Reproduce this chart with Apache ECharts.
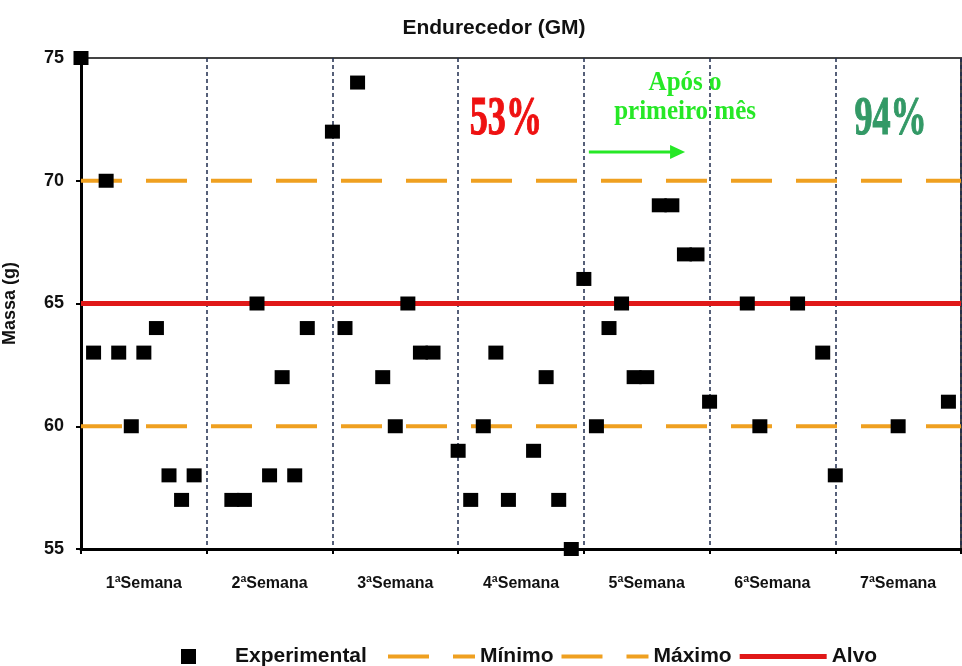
<!DOCTYPE html>
<html>
<head>
<meta charset="utf-8">
<script src="https://cdn.jsdelivr.net/npm/echarts@6/dist/echarts.min.js"></script>
<style>
  html, body { margin: 0; padding: 0; background: #fff; }
  #chart { width: 962px; height: 666px; }
</style>
</head>
<body>
<div id="chart"></div>
<script>
// ---- data ----
var weeks = ['1ªSemana', '2ªSemana', '3ªSemana', '4ªSemana', '5ªSemana', '6ªSemana', '7ªSemana'];
// sample position (10 slots per week) and measured mass (g)
var expX = [0, 1, 2, 3, 4, 5, 6, 7, 8, 9,
            12, 13, 14, 15, 16, 17, 18,
            20, 21, 22, 24, 25, 26, 27, 28,
            30, 31, 32, 33, 34, 36, 37, 38, 39,
            40, 41, 42, 43, 44, 45, 46, 47, 48, 49,
            50, 53, 54, 57, 59,
            60, 65, 69];
var expY = [75, 63, 70, 63, 60, 63, 64, 58, 57, 58,
            57, 57, 65, 58, 62, 58, 64,
            72, 64, 74, 62, 60, 65, 63, 63,
            59, 57, 60, 63, 57, 59, 62, 57, 55,
            66, 60, 64, 65, 62, 62, 69, 69, 67, 67,
            61, 65, 60, 65, 63,
            58, 60, 61];
var xRange = [0, 70];
var minimo = 60, maximo = 70, alvo = 65;
var yTicks = { min: 55, max: 75, interval: 5 };
// annotations
var pctBefore = '53%', pctAfter = '94%';
var noteLines = ['Após o', 'primeiro mês'];
var splitAt = 40.4;

var chart = echarts.init(document.getElementById('chart'), null, { renderer: 'canvas' });

var sansB = "'Liberation Sans', Arial, sans-serif";
var orange = '#EFA020';
var red = '#E01818';
var green = '#26E826';

function pairs(xs, ys) { return xs.map(function (x, i) { return [x, ys[i]]; }); }
function flat(v) { return [[xRange[0], v], [xRange[1], v]]; }

var legendText = { fontFamily: sansB, fontWeight: 'bold', fontSize: 21, color: '#111' };
var dashIcon = 'path://M0,0h0.01v0.01h-0.01z M0,5.5h41v4h-41z M65,5.5h22v4h-22z M86.99,14.99h0.01v0.01h-0.01z';
var solidIcon = 'path://M0,0h0.01v0.01h-0.01z M0,5h87v5h-87z M86.99,14.99h0.01v0.01h-0.01z';

var option = {
  backgroundColor: '#ffffff',
  animation: false,
  title: {
    text: 'Endurecedor (GM)',
    left: 489, top: 13, textAlign: 'center',
    textStyle: { fontFamily: sansB, fontWeight: 'bold', fontSize: 21, color: '#111' }
  },
  grid: { left: 81, right: 1, top: 58, bottom: 117, show: true, borderColor: '#444', borderWidth: 2,
          containLabel: false, outerBoundsMode: 'none' },
  legend: [
    {
      left: 176, top: 641,
      itemWidth: 15, itemHeight: 15,
      textStyle: Object.assign({ padding: [0, 0, 0, 34] }, legendText),
      data: [{ name: 'Experimental', icon: 'rect' }]
    },
    {
      left: 383, top: 641,
      itemWidth: 87, itemHeight: 15, itemGap: 8,
      textStyle: legendText,
      data: [
        { name: 'Mínimo', icon: dashIcon, itemStyle: { color: orange }, lineStyle: { width: 0 } },
        { name: 'Máximo', icon: dashIcon, itemStyle: { color: orange }, lineStyle: { width: 0 } },
        { name: 'Alvo', icon: solidIcon, itemStyle: { color: red }, lineStyle: { width: 0 } }
      ]
    }
  ],
  xAxis: [
    { type: 'value', min: xRange[0], max: xRange[1], show: false },
    {
      type: 'category', data: weeks, position: 'bottom', boundaryGap: true,
      axisLine: { show: true, lineStyle: { color: '#000', width: 3 } },
      axisTick: { show: true, length: 5, lineStyle: { color: '#000', width: 2 } },
      axisLabel: { margin: 27, fontFamily: sansB, fontWeight: 'bold', fontSize: 16, color: '#111' },
      splitLine: { show: true, lineStyle: { color: '#1f2d4d', width: 1.5, type: [4, 3] } }
    }
  ],
  yAxis: {
    type: 'value', min: yTicks.min, max: yTicks.max, interval: yTicks.interval,
    name: 'Massa (g)', nameLocation: 'middle', nameRotate: 90, nameGap: 62,
    nameTextStyle: { fontFamily: sansB, fontWeight: 'bold', fontSize: 18, color: '#111' },
    axisLine: { show: true, lineStyle: { color: '#000', width: 3 } },
    axisTick: { show: true, length: 5, lineStyle: { color: '#000', width: 2 } },
    axisLabel: { margin: 17, fontFamily: sansB, fontWeight: 'bold', fontSize: 18, color: '#111' },
    splitLine: { show: false }
  },
  series: [
    {
      name: 'Experimental', type: 'scatter', xAxisIndex: 0, z: 5, clip: false,
      symbol: 'rect', symbolSize: [15, 14],
      itemStyle: { color: '#000', opacity: 1 },
      data: pairs(expX, expY)
    },
    {
      name: 'Mínimo', type: 'line', xAxisIndex: 0, symbol: 'none', silent: true, z: 2,
      lineStyle: { color: orange, width: 4, type: [41, 24] }, itemStyle: { color: orange },
      data: flat(minimo)
    },
    {
      name: 'Máximo', type: 'line', xAxisIndex: 0, symbol: 'none', silent: true, z: 2,
      lineStyle: { color: orange, width: 4, type: [41, 24] }, itemStyle: { color: orange },
      data: flat(maximo)
    },
    {
      name: 'Alvo', type: 'line', xAxisIndex: 0, symbol: 'none', silent: true, z: 3,
      lineStyle: { color: red, width: 5 }, itemStyle: { color: red },
      data: flat(alvo)
    }
  ]
};
chart.setOption(option);

// ---- annotations positioned through the chart's own scales ----
function px(x, y) { return chart.convertToPixel({ xAxisIndex: 0, yAxisIndex: 0 }, [x, y]); }
var top = px(splitAt, yTicks.max);
var bot = px(splitAt, yTicks.min);
var arrowStart = px(splitAt, 71.17);
var arrowEnd = px(48.05, 71.17);
var p53 = px(33.8, 72.47);
var p94 = px(64.4, 72.47);
var n1 = px(48.05, 73.98);
var n2 = px(48.05, 72.8);

var serif = "'Liberation Serif', 'Times New Roman', serif";
chart.setOption({
  graphic: [
    { type: 'line', z: 20, shape: { x1: top[0], y1: top[1] - 2, x2: bot[0], y2: bot[1] + 11 },
      style: { stroke: green, lineWidth: 5 } },
    { type: 'line', z: 20, shape: { x1: arrowStart[0], y1: arrowStart[1], x2: arrowEnd[0] - 12, y2: arrowEnd[1] },
      style: { stroke: green, lineWidth: 3 } },
    { type: 'polygon', z: 20, shape: { points: [[arrowEnd[0] - 15, arrowEnd[1] - 7], [arrowEnd[0], arrowEnd[1]], [arrowEnd[0] - 15, arrowEnd[1] + 7]] },
      style: { fill: green } },
    { type: 'text', z: 20, x: p53[0], y: p53[1], scaleX: 0.95, scaleY: 1.45,
      style: { text: pctBefore, fill: '#EE1111', font: 'bold 38px ' + serif, textAlign: 'center', textVerticalAlign: 'middle',
               stroke: '#EE1111', lineWidth: 0.8 } },
    { type: 'text', z: 20, x: p94[0], y: p94[1], scaleX: 0.95, scaleY: 1.45,
      style: { text: pctAfter, fill: '#339966', font: 'bold 38px ' + serif, textAlign: 'center', textVerticalAlign: 'middle',
               stroke: '#339966', lineWidth: 0.8 } },
    { type: 'text', z: 20, x: n1[0], y: n1[1], scaleY: 1.12,
      style: { text: noteLines[0], fill: green, font: 'bold 25px ' + serif, textAlign: 'center', textVerticalAlign: 'middle' } },
    { type: 'text', z: 20, x: n2[0], y: n2[1], scaleY: 1.12,
      style: { text: noteLines[1], fill: green, font: 'bold 25px ' + serif, textAlign: 'center', textVerticalAlign: 'middle' } }
  ]
});
</script>
</body>
</html>
